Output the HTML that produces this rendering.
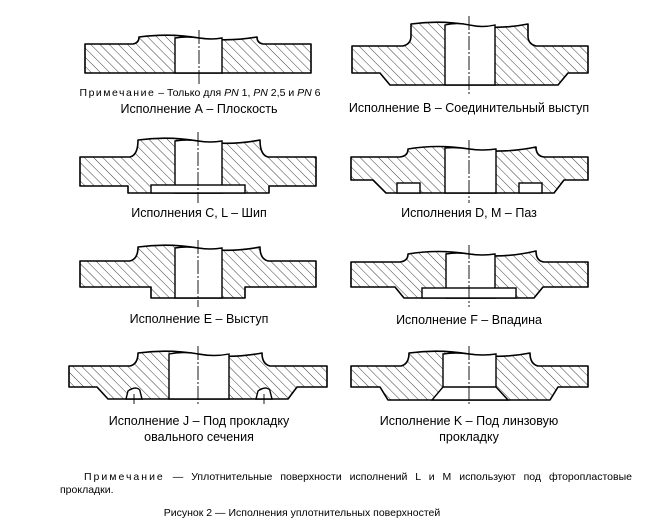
<!DOCTYPE html>
<html><head><meta charset="utf-8"><style>
html,body{margin:0;padding:0;background:#fff;}
body{width:650px;height:532px;position:relative;overflow:hidden;font-family:"Liberation Sans",sans-serif;color:#000;}
.t{position:absolute;font-size:12.5px;text-align:center;white-space:nowrap;line-height:16px;}
</style></head><body>
<svg width="650" height="532" style="position:absolute;left:0;top:0">
<defs>
<pattern id="h" patternUnits="userSpaceOnUse" width="6.5" height="6.5" patternTransform="rotate(-45)">
<line x1="0" y1="0" x2="0" y2="6.5" stroke="#000" stroke-width="0.75"/>
</pattern>
</defs>
<g stroke="#000" stroke-width="1.6" fill="url(#h)" stroke-linejoin="round">
<path d="M85,44 H133 Q139,43 139,37 Q170,33 199,38 Q228,42 257,37 Q257,43 263,44 H311 V73 H85 Z"/>
<path d="M352,46 H403 Q411,44 411,36 V24 Q440,20 469,25 Q498,30 528,24 V36 Q528,44 536,46 H588 V73 H568 L558,85 H390 L380,73 H352 Z"/>
<path d="M80,157 H130 Q138,155 138,140 Q168,136 198,141 Q229,146 260,140 Q260,155 268,157 H316 V186 H269 V193 H128 V186 H80 Z"/>
<path d="M351,157 H400 Q408,156 408,149 Q438,144 469,149 Q502,154 536,147 Q536,156 544,157 H588 V180 H564 L554,193 H386 L373,180 H351 Z"/>
<path d="M80,261 H130 Q138,259 138,247 Q168,243 198,248 Q229,253 260,247 Q260,259 268,261 H316 V287 H245 V298 H151 V287 H80 Z"/>
<path d="M351,262 H400 Q408,261 408,254 Q438,249 469,254 Q502,259 536,251 Q536,261 544,262 H588 V287 H543 L534,298 H404 L395,287 H351 Z"/>
<path d="M69,366 H130 Q138,364 138,353 Q168,349 198,354 Q230,359 262,353 Q262,364 270,366 H327 V387 H297 L288,399 H108 L97,387 H69 Z"/>
<path d="M351,366 H401 Q409,364 409,353 Q439,349 469,354 Q500,359 530,353 Q530,364 538,366 H588 V387 H558 L550,400 H388 L380,387 H351 Z"/>
</g>
<g stroke="#000" stroke-width="1.4" fill="#fff">
<path d="M175,73 V38 Q187,36 199,38 Q211,40 222,38 V73 Z" />
<path d="M445,85 V25 Q457,22 469,25 Q482,28 495,25 V85 Z"/>
<path d="M175,193 V141 Q187,139 198,141 Q210,143 222,141 V193 Z"/>
<rect x="151" y="185" width="94" height="8"/>
<path d="M445,193 V148 Q457,147 469,149 Q482,151 496,149 V193 Z"/>
<rect x="397" y="183" width="23" height="10"/>
<rect x="519" y="183" width="23" height="10"/>
<path d="M175,298 V248 Q187,246 198,248 Q210,250 222,248 V298 Z"/>
<path d="M446,298 V254 Q457,252 469,254 Q482,256 495,254 V298 Z"/>
<rect x="422" y="288" width="94" height="10"/>
<path d="M169,399 V354 Q184,351 198,354 Q214,357 229,354 V399 Z"/>
<path d="M443,387 V354 Q456,352 469,354 Q483,356 496,354 V387 L508,400 H432 Z"/>
<line x1="443" y1="387" x2="496" y2="387"/>
<path d="M126,399 L128,391 Q132,388 136,388 Q140,389 140,391 L142,399 Z"/>
<path d="M256,399 L258,391 Q262,388 266,388 Q270,389 270,391 L272,399 Z"/>
</g>
<g stroke="#000" stroke-width="0.9" stroke-dasharray="14,2,2,2">
<line x1="199" y1="30" x2="199" y2="86"/>
<line x1="469" y1="16" x2="469" y2="96"/>
<line x1="198" y1="132" x2="198" y2="203"/>
<line x1="469" y1="140" x2="469" y2="203"/>
<line x1="198" y1="240" x2="198" y2="307"/>
<line x1="469" y1="245" x2="469" y2="307"/>
<line x1="198" y1="346" x2="198" y2="404"/>
<line x1="469" y1="346" x2="469" y2="405"/>
<line x1="134" y1="394" x2="134" y2="404"/>
<line x1="264" y1="394" x2="264" y2="404"/>
</g>
</svg>
<div class="t" style="left:0;width:400px;top:85px;font-size:10.5px"><span style="letter-spacing:1.5px">Примечание</span> – Только для <i>PN</i> 1, <i>PN</i> 2,5 и <i>PN</i> 6</div>
<div class="t" style="left:0;width:398px;top:101px">Исполнение А – Плоскость</div>
<div class="t" style="left:270px;width:398px;top:100px">Исполнение В – Соединительный выступ</div>
<div class="t" style="left:0;width:398px;top:205px">Исполнения C, L – Шип</div>
<div class="t" style="left:270px;width:398px;top:205px">Исполнения D, M – Паз</div>
<div class="t" style="left:0;width:398px;top:311px">Исполнение E – Выступ</div>
<div class="t" style="left:270px;width:398px;top:312px">Исполнение F – Впадина</div>
<div class="t" style="left:0;width:398px;top:413px">Исполнение J – Под прокладку<br>овального сечения</div>
<div class="t" style="left:270px;width:398px;top:413px">Исполнение K – Под линзовую<br>прокладку</div>
<div style="position:absolute;left:84px;top:471px;width:548px;font-size:10.5px;line-height:13px;text-align:justify;text-align-last:justify;"><span style="letter-spacing:2px">Примечание</span> — Уплотнительные поверхности исполнений L и M используют под фторопластовые</div>
<div style="position:absolute;left:60px;top:484px;font-size:10.5px;line-height:13px;">прокладки.</div>
<div class="t" style="left:0;width:604px;top:505px;font-size:10.5px">Рисунок 2 — Исполнения уплотнительных поверхностей</div>
</body></html>
